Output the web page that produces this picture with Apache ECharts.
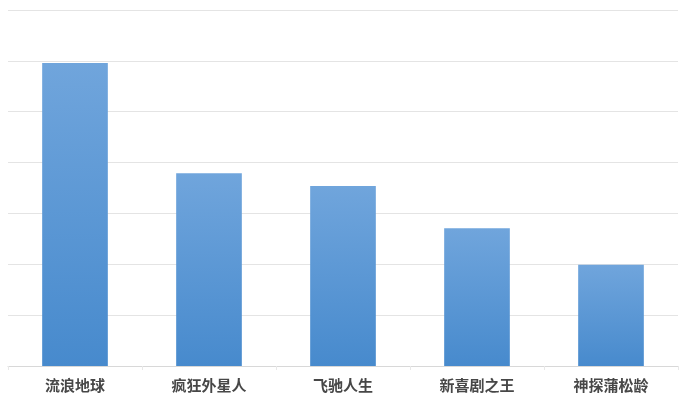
<!DOCTYPE html>
<html>
<head>
<meta charset="utf-8">
<script src="https://cdn.jsdelivr.net/npm/echarts@6/dist/echarts.min.js"></script>
<style>
    html, body { margin: 0; padding: 0; background: #fff; }
    #chartsbox { width: 690px; height: 405px; }
</style>
</head>
<body>
<div id="chartsbox"></div>
<script type="text/javascript">
    // 电影名称
    var aTypeName = ['流浪地球', '疯狂外星人', '飞驰人生', '新喜剧之王', '神探蒲松龄'];
    // 柱子的值
    var aValue = [5.96, 3.79, 3.54, 2.71, 1.99];

    var myChart = echarts.init(document.getElementById('chartsbox'));
    var option = {
        animation: false,
        grid: {
            left: 8,
            right: 12,
            top: 10,
            bottom: 39
        },
        xAxis: {
            type: 'category',
            data: aTypeName,
            axisLine: { lineStyle: { color: '#d8d8d8', width: 1 } },
            axisTick: { show: true, length: 4, lineStyle: { color: '#e8e8e8' } },
            axisLabel: {
                margin: 12,
                fontSize: 15,
                fontWeight: 'bold',
                color: '#474747',
                fontFamily: 'Noto Sans CJK SC'
            }
        },
        yAxis: {
            type: 'value',
            min: 0,
            max: 7,
            interval: 1,
            axisLabel: { show: false },
            axisLine: { show: false },
            axisTick: { show: false },
            splitLine: { lineStyle: { color: '#e4e4e4', width: 1 } }
        },
        series: [{
            type: 'bar',
            barWidth: '49%',
            data: aValue,
            itemStyle: {
                color: new echarts.graphic.LinearGradient(0, 0, 0, 1, [
                    { offset: 0, color: '#70a5dc' },
                    { offset: 1, color: '#478acd' }
                ])
            }
        }]
    };
    myChart.setOption(option);
</script>
</body>
</html>
